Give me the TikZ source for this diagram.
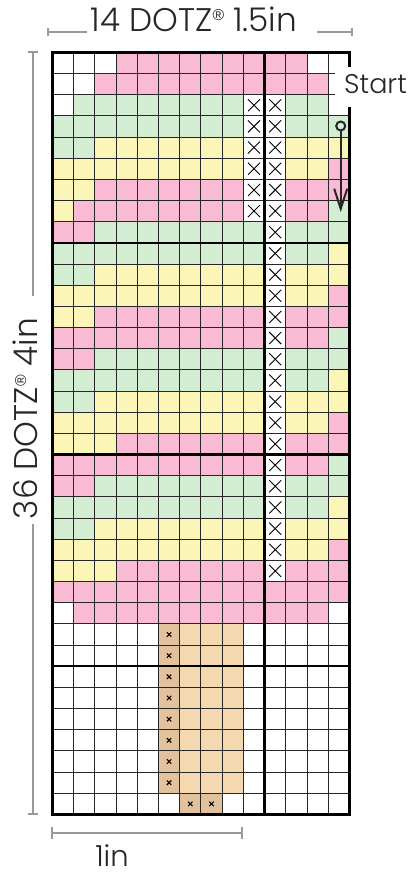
\documentclass[tikz,border=0pt]{standalone}
\usepackage{fontspec}
\setmainfont{Poppins}[UprightFont=* Light]
\newfontfamily\regfont{Liberation Sans}
\usetikzlibrary{arrows.meta}
\definecolor{pinkc}{HTML}{F8BBD3}
\definecolor{greenc}{HTML}{D2EDD2}
\definecolor{yellowc}{HTML}{FBF6B8}
\definecolor{tanc}{HTML}{F4D9B0}
\definecolor{dtanc}{HTML}{E2C29C}
\definecolor{dimc}{HTML}{9A9A9A}
\definecolor{inkc}{HTML}{262626}
\newcommand{\regmark}{\raisebox{9pt}{\regfont\fontsize{13}{13}\selectfont ®}}
\begin{document}
\begin{tikzpicture}[x=1pt,y=-1pt,
  cW/.style={fill=white},
  cP/.style={fill=pinkc},
  cG/.style={fill=greenc},
  cY/.style={fill=yellowc},
  cT/.style={fill=tanc},
  cX/.style={fill=white,path picture={
     \draw[line width=0.9pt,black] ([shift={(-6,-6)}]path picture bounding box.center) -- ([shift={(6,6)}]path picture bounding box.center);
     \draw[line width=0.9pt,black] ([shift={(-6,6)}]path picture bounding box.center) -- ([shift={(6,-6)}]path picture bounding box.center);}},
  cD/.style={fill=dtanc,path picture={
     \draw[line width=1.1pt,black] ([shift={(-2.2,-2.2)}]path picture bounding box.center) -- ([shift={(2.2,2.2)}]path picture bounding box.center);
     \draw[line width=1.1pt,black] ([shift={(-2.2,2.2)}]path picture bounding box.center) -- ([shift={(2.2,-2.2)}]path picture bounding box.center);}},
  gridline/.style={line width=0.9pt,black!85},
  heavyline/.style={line width=2.4pt,black},
  dimline/.style={line width=2pt,dimc},
  label/.style={font=\fontsize{27}{30}\selectfont,text=inkc,inner sep=0pt},
  pathline/.style={line width=2pt,inkc}
]
\useasboundingbox (0,0) rectangle (411,874);
\def\gx{52.3}
\def\gy{52.3}
\def\sx{21.23}
\def\sy{21.17}
% cells
\foreach \row [count=\r from 0] in {
 {W,W,W,P,P,P,P,P,P,P,P,P,W,W},
 {W,W,P,P,P,P,P,P,P,P,P,P,P,W},
 {W,G,G,G,G,G,G,G,G,X,X,G,G,W},
 {G,G,G,G,G,G,G,G,G,X,X,G,G,G},
 {G,G,Y,Y,Y,Y,Y,Y,Y,X,X,Y,Y,Y},
 {Y,Y,Y,Y,Y,Y,Y,Y,Y,X,X,Y,Y,P},
 {Y,Y,P,P,P,P,P,P,P,X,X,P,P,P},
 {Y,P,P,P,P,P,P,P,P,X,X,P,P,G},
 {P,P,G,G,G,G,G,G,G,G,X,G,G,G},
 {G,G,G,G,G,G,G,G,G,G,X,G,G,Y},
 {G,G,Y,Y,Y,Y,Y,Y,Y,Y,X,Y,Y,Y},
 {Y,Y,Y,Y,Y,Y,Y,Y,Y,Y,X,Y,Y,P},
 {Y,Y,P,P,P,P,P,P,P,P,X,P,P,P},
 {P,P,P,P,P,P,P,P,P,P,X,P,P,G},
 {P,P,G,G,G,G,G,G,G,G,X,G,G,G},
 {G,G,G,G,G,G,G,G,G,G,X,G,G,Y},
 {G,G,Y,Y,Y,Y,Y,Y,Y,Y,X,Y,Y,Y},
 {Y,Y,Y,Y,Y,Y,Y,Y,Y,Y,X,Y,Y,P},
 {Y,Y,Y,P,P,P,P,P,P,P,X,P,P,P},
 {P,P,P,P,P,P,P,P,P,P,X,P,P,G},
 {P,P,G,G,G,G,G,G,G,G,X,G,G,G},
 {G,G,G,G,G,G,G,G,G,G,X,G,G,Y},
 {G,G,Y,Y,Y,Y,Y,Y,Y,Y,X,Y,Y,Y},
 {Y,Y,Y,Y,Y,Y,Y,Y,Y,Y,X,Y,Y,P},
 {Y,Y,Y,P,P,P,P,P,P,P,X,P,P,P},
 {P,P,P,P,P,P,P,P,P,P,P,P,P,P},
 {W,P,P,P,P,P,P,P,P,P,P,P,P,W},
 {W,W,W,W,W,D,T,T,T,W,W,W,W,W},
 {W,W,W,W,W,D,T,T,T,W,W,W,W,W},
 {W,W,W,W,W,D,T,T,T,W,W,W,W,W},
 {W,W,W,W,W,D,T,T,T,W,W,W,W,W},
 {W,W,W,W,W,D,T,T,T,W,W,W,W,W},
 {W,W,W,W,W,D,T,T,T,W,W,W,W,W},
 {W,W,W,W,W,D,T,T,T,W,W,W,W,W},
 {W,W,W,W,W,D,T,T,T,W,W,W,W,W},
 {W,W,W,W,W,W,D,D,W,W,W,W,W,W}} {
  \foreach \c [count=\k from 0] in \row {
    \path[c\c] ({\gx+\k*\sx},{\gy+\r*\sy}) rectangle ++(\sx,\sy);
  }
}
% thin grid
\foreach \k in {1,...,13}
  \draw[gridline] ({\gx+\k*\sx},\gy) -- ({\gx+\k*\sx},{\gy+36*\sy});
\foreach \r in {1,...,35}
  \draw[gridline] (\gx,{\gy+\r*\sy}) -- ({\gx+14*\sx},{\gy+\r*\sy});
% heavy lines
\draw[heavyline] ({\gx+10*\sx},\gy) -- ({\gx+10*\sx},{\gy+36*\sy});
\foreach \r in {9,19,29}
  \draw[heavyline] (\gx,{\gy+\r*\sy}) -- ({\gx+14*\sx},{\gy+\r*\sy});
\draw[line width=3pt,black] (\gx,\gy) rectangle ({\gx+14*\sx},{\gy+36*\sy});
% start label box
\fill[white] (335,67) rectangle (411,107);
\node[label,anchor=base west] (start) at (344,94) {Start};
% start marker and arrow
\node[circle,draw=inkc,line width=2pt,fill=none,minimum size=9pt,inner sep=0pt] (dot) at (340.7,126) {};
\coordinate (tip) at (340.7,212);
\draw[pathline,-{Straight Barb[length=20pt,width=13pt,line width=2pt]}] (dot) -- (tip);
% top dimension
\node[label,anchor=base] (toplab) at (194,31.7) {\resizebox{206pt}{!}{14 DOTZ\regmark{} 1.5in}};
\coordinate (tl) at (48,32.3);
\coordinate (tlm) at (87,32.3);
\coordinate (trm) at (317,32.3);
\coordinate (tr) at (352,32.3);
\draw[dimline] (tl) -- (tlm);
\draw[dimline] (trm) -- (tr);
\draw[dimline] ([yshift=-4]tl) -- ([yshift=4]tl);
\draw[dimline] ([yshift=-4]tr) -- ([yshift=4]tr);
% left dimension
\node[label,anchor=base,rotate=90] (leftlab) at (37,418.5) {\resizebox{201pt}{!}{36 DOTZ\regmark{} 4in}};
\coordinate (lt) at (33,52.3);
\coordinate (ltm) at (33,296);
\coordinate (lbm) at (33,524);
\coordinate (lb) at (33,814.3);
\draw[dimline] (lt) -- (ltm);
\draw[dimline] (lbm) -- (lb);
\draw[dimline] ([xshift=-5]lt) -- ([xshift=5]lt);
\draw[dimline] ([xshift=-5]lb) -- ([xshift=5]lb);
% bottom dimension
\coordinate (bl) at (51.7,832.7);
\coordinate (br) at (241.7,832.7);
\draw[dimline] (bl) -- (br);
\draw[dimline] ([yshift=-6]bl) -- ([yshift=6]bl);
\draw[dimline] ([yshift=-6]br) -- ([yshift=6]br);
\node[label,anchor=base,font=\fontsize{29}{32}\selectfont] (inlab) at (112,866) {1in};
\end{tikzpicture}
\end{document}
